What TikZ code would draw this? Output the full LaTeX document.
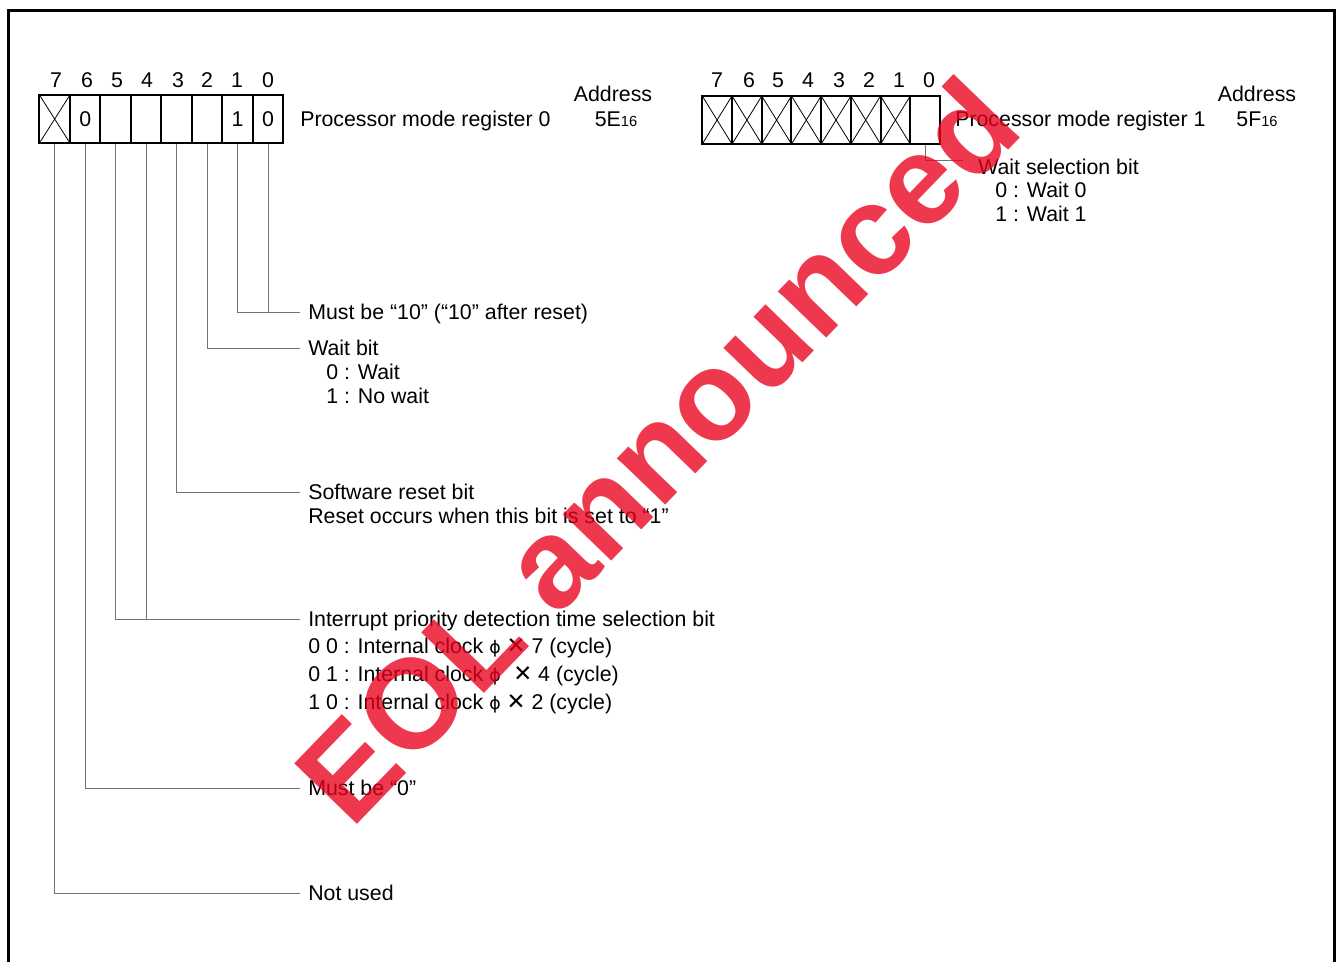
\documentclass[tikz,border=0pt]{standalone}
\usepackage{fontspec}
\setmainfont{Liberation Sans}
\newfontfamily\djv{DejaVu Sans}
\definecolor{wmred}{RGB}{232,0,28}
\newcommand\phisym{{\djv\fontsize{13}{13}\selectfont ϕ}}
\newcommand\xsym{{\djv\fontsize{17}{17}\selectfont ✕}}
\newcommand\subnum[1]{{\fontsize{11}{11}\selectfont #1}}
\begin{document}
\begin{tikzpicture}[x=0.75pt,y=-0.75pt,
  font=\fontsize{16}{19}\selectfont,
  reg/.style={draw, line width=1.5pt, minimum width=22.85pt, minimum height=36pt,
    inner sep=0pt, text height=11.5pt, text depth=0pt},
  reg1/.style={reg, minimum width=22.28pt},
  crossed/.style={path picture={\draw[line width=0.6pt]
    (path picture bounding box.north west) -- (path picture bounding box.south east)
    (path picture bounding box.south west) -- (path picture bounding box.north east);}},
  num/.style={inner sep=0pt, text height=11.5pt, text depth=0pt},
  txt/.style={num, anchor=west},
  leader/.style={draw=black!55, line width=0.75pt}]

\useasboundingbox (0,0) rectangle (1337,961);
\draw[line width=2.25pt] (8,980) -- (8,10) -- (1334,10) -- (1334,980);

% ---------- register 0 ----------
\node[reg,crossed] (p7) at (54.7,119) {};
\node[reg] (p6) at (85.2,119) {0};
\node[reg] (p5) at (115.7,119) {};
\node[reg] (p4) at (146.2,119) {};
\node[reg] (p3) at (176.6,119) {};
\node[reg] (p2) at (207.1,119) {};
\node[reg] (p1) at (237.6,119) {1};
\node[reg] (p0) at (268.0,119) {0};
\foreach \b/\xx in {7/56,6/87,5/117,4/147,3/178,2/207,1/237,0/268}
  \node[num] (pn\b) at (\xx,80) {\b};

\node[txt] (preg0) at (300,119) {Processor mode register 0};
\node[num] (paddr) at (613,94) {Address};
\node[num] (pval) at (616,119) {5E\subnum{16}};

% ---------- register 1 ----------
\node[reg1,crossed] (q7) at (717.1,120) {};
\node[reg1,crossed] (q6) at (746.9,120) {};
\node[reg1,crossed] (q5) at (776.6,120) {};
\node[reg1,crossed] (q4) at (806.3,120) {};
\node[reg1,crossed] (q3) at (836.0,120) {};
\node[reg1,crossed] (q2) at (865.7,120) {};
\node[reg1,crossed] (q1) at (895.4,120) {};
\node[reg1] (q0) at (925.1,120) {};
\foreach \b/\xx in {7/717,6/749,5/778,4/808,3/839,2/869,1/899,0/929}
  \node[num] (qn\b) at (\xx,80) {\b};

\node[txt] (qreg1) at (955,119) {Processor mode register 1};
\node[num] (qaddr) at (1257,94) {Address};
\node[num] (qval) at (1257,119) {5F\subnum{16}};

\node[txt] (tws) at (978,167) {Wait selection bit};
\node[txt] (tws0) at (995,190) {0 : Wait 0};
\node[txt] (tws1) at (995,214) {1 : Wait 1};
\draw[leader] (q0.south) |- ([xshift=-11pt,yshift=5pt]tws.west);

% ---------- register 0 descriptions ----------
\node[txt] (t10) at (308,312) {Must be “10” (“10” after reset)};
\node[txt] (twait) at (308,348) {Wait bit};
\node[txt] (twait0) at (326,372) {0 : Wait};
\node[txt] (twait1) at (326,396) {1 : No wait};
\node[txt] (tsr) at (308,492) {Software reset bit};
\node[txt] (tsr2) at (308,516) {Reset occurs when this bit is set to “1”};
\node[txt] (tip) at (308,619) {Interrupt priority detection time selection bit};
\node[txt] (tip0) at (308,646) {0 0 : Internal clock \phisym{} \xsym{} 7 (cycle)};
\node[txt] (tip1) at (308,674) {0 1 : Internal clock \phisym{} \hspace{5pt}\xsym{} 4 (cycle)};
\node[txt] (tip2) at (308,702) {1 0 : Internal clock \phisym{} \xsym{} 2 (cycle)};
\node[txt] (tm0) at (308,788) {Must be “0”};
\node[txt] (tnu) at (308,893) {Not used};

\draw[leader] (p0.south) |- ([xshift=-6pt]t10.west);
\draw[leader] (p1.south) |- ([xshift=-6pt]t10.west);
\draw[leader] (p2.south) |- ([xshift=-6pt]twait.west);
\draw[leader] (p3.south) |- ([xshift=-6pt]tsr.west);
\draw[leader] (p4.south) |- ([xshift=-6pt]tip.west);
\draw[leader] (p5.south) |- ([xshift=-6pt]tip.west);
\draw[leader] (p6.south) |- ([xshift=-6pt]tm0.west);
\draw[leader] (p7.south) |- ([xshift=-6pt]tnu.west);

% ---------- watermark ----------
\node[rotate=46, text=wmred, opacity=0.78, inner sep=0pt,
  font=\fontsize{95}{95}\selectfont\bfseries] (wm) at (656,450) {EOL announced};
\end{tikzpicture}
\end{document}
